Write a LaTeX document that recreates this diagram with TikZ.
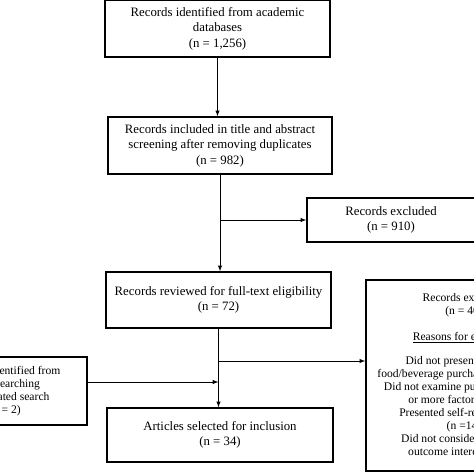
\documentclass[tikz,border=0pt]{standalone}
\usepackage{fontspec}
\setmainfont{Liberation Serif}
\usetikzlibrary{arrows, positioning}

\begin{document}
\begin{tikzpicture}[>=latex, x=1pt, y=1pt,
    box/.style={draw, line width=1.4pt, align=center, inner sep=0pt, font=\fontsize{12.8}{15.5}\selectfont},
    sidebox/.style={box, font=\fontsize{11.6}{13}\selectfont},
    link/.style={->, line width=1pt}]
    \useasboundingbox (0,0) rectangle (474,-474);
    \clip (0,0) rectangle (474,-474);

    \node[box, minimum width=225, minimum height=57] (ident) at (217.5,-28.5) {Records identified from academic\\databases\\(n = 1,256)};
    \node[box, minimum width=224, minimum height=57] (screen) at (220,-145.5) {Records included in title and abstract\\screening after removing duplicates\\(n = 982)};
    \node[box, minimum width=168, minimum height=44] (excl1) at (391,-220) {Records excluded\\(n = 910)};
    \node[box, minimum width=225, minimum height=56] (full) at (218.5,-300) {Records reviewed for full-text eligibility\\(n = 72)};
    \node[sidebox, minimum width=196, minimum height=191] (excl2) at (464,-375.5) {Records excluded\\(n = 40)\\[13pt]\underline{Reasons for exclusion}\\[11pt]Did not present objective\\food/beverage purchase data (n = 10)\\Did not examine purchases by one\\or more factors (n = 12)\\Presented self-reported data\\(n =14)\\Did not consider a relevant\\outcome interest (n = 4)};
    \node[sidebox, minimum width=164, minimum height=68] (hand) at (5,-391) {Records identified from\\hand searching\\and updated search\\(n = 2)};
    \node[box, minimum width=226, minimum height=54] (incl) at (220,-435) {Articles selected for inclusion\\(n = 34)};

    \draw[link] (ident.south) -- (ident.south |- screen.north);
    \draw[link] (screen.south) -- (screen.south |- full.north);
    \draw[link] (screen.south |- excl1.west) -- (excl1.west);

    \draw[link] (full.south) -- (full.south |- incl.north);
    \draw[link] (full.south |- excl2.west) ++(0,14.5) -- ([yshift=14.5pt]excl2.west);
    \draw[link] ([yshift=9pt]hand.east) -- ([yshift=9pt]hand.east -| full.south);
\end{tikzpicture}
\end{document}
